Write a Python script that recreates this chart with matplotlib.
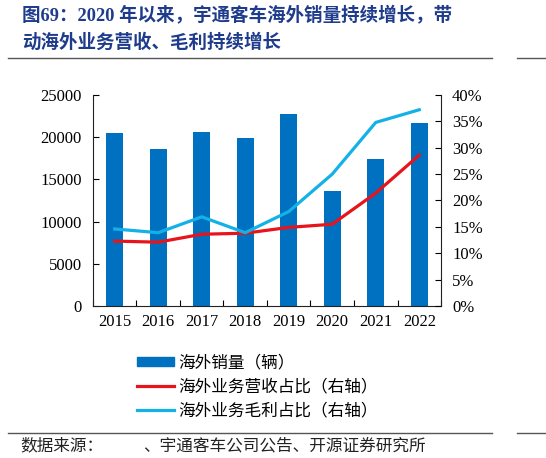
import matplotlib
matplotlib.use("Agg")
import matplotlib.pyplot as plt
from matplotlib.lines import Line2D
from matplotlib.patches import Patch
import numpy as np

# 宇通客车海外销量及海外业务占比
years = ['2015', '2016', '2017', '2018', '2019', '2020', '2021', '2022']
sales = [20550, 18550, 20650, 19850, 22750, 13630, 17450, 21680]        # 海外销量（辆）
rev_share = [12.3, 12.1, 13.6, 13.8, 14.9, 15.5, 21.4, 28.6]           # 海外业务营收占比 %
profit_share = [14.6, 13.9, 16.9, 13.9, 17.9, 25.0, 34.8, 37.2]        # 海外业务毛利占比 %

serif = ['Liberation Serif', 'Noto Sans CJK SC']
cjk = ['Noto Sans CJK SC', 'Liberation Serif']
plt.rcParams['font.family'] = serif

bar_c = '#0070C0'
red_c = '#E8141C'
blue_c = '#14B1E7'
title_c = '#1F3C8C'

fig = plt.figure(figsize=(5.46, 4.58), dpi=100)
ax = fig.add_axes([0.1703, 0.3319, 0.6374, 0.4607])
ax2 = ax.twinx()

x = np.arange(len(years))
ax.bar(x, sales, width=0.40, color=bar_c, zorder=2)
ax2.plot(x, rev_share, color=red_c, lw=2.3, zorder=3)
ax2.plot(x, profit_share, color=blue_c, lw=2.3, zorder=3)

ax.set_xlim(-0.5, len(years) - 0.5)
ax.set_ylim(0, 25000)
ax.set_yticks(range(0, 25001, 5000))
ax2.set_ylim(0, 40)
ax2.set_yticks(range(0, 41, 5))
ax2.set_yticklabels([f'{v}%' for v in range(0, 41, 5)])

ax.set_xticks(x)
ax.set_xticklabels(years)
ax.set_xticks(np.arange(-0.5, len(years) + 0.5, 1), minor=True)
ax.tick_params(axis='x', which='major', length=0, labelsize=12, pad=6)
ax.tick_params(axis='x', which='minor', direction='in', length=4, width=0.8)
ax.tick_params(axis='y', direction='in', length=4, width=0.8, labelsize=12, pad=8)
ax2.tick_params(axis='y', direction='in', length=4, width=0.8, labelsize=12, pad=8)

for a in (ax, ax2):
    a.spines['top'].set_visible(False)
    for s in ('left', 'right', 'bottom'):
        a.spines[s].set_linewidth(0.8)
        a.spines[s].set_color('#222222')
ax.spines['right'].set_visible(False)
ax2.spines['left'].set_visible(False)
ax2.spines['bottom'].set_visible(False)

# legend
handles = [Patch(color=bar_c),
           Line2D([], [], color=red_c, lw=2.3),
           Line2D([], [], color=blue_c, lw=2.3)]
labels = ['海外销量（辆）', '海外业务营收占比（右轴）', '海外业务毛利占比（右轴）']
fig.legend(handles, labels, loc='upper left', bbox_to_anchor=(129 / 546, 1 - 346 / 458),
           frameon=False, prop={'family': cjk, 'size': 12}, handlelength=2.2,
           handleheight=0.45, handletextpad=0.25, labelspacing=0.42, borderpad=0)

# title
fig.text(22 / 546, 1 - 15 / 458, '图69：2020 年以来，宇通客车海外销量持续增长，带',
         family=serif, fontsize=13.3, fontweight='bold', color=title_c, va='center')
fig.text(22 / 546, 1 - 43 / 458, '动海外业务营收、毛利持续增长',
         family=serif, fontsize=13.3, fontweight='bold', color=title_c, va='center')

# separator lines
for yy in (1 - 58 / 458, 1 - 433 / 458):
    fig.add_artist(Line2D([8 / 546, 492 / 546], [yy, yy], color='#555555', lw=1.0))
    fig.add_artist(Line2D([517 / 546, 1.0], [yy, yy], color='#555555', lw=1.0))

fig.text(20 / 546, 1 - 446 / 458, '数据来源：',
         family=cjk, fontsize=12, color='#222222', va='center')
fig.text(143 / 546, 1 - 446 / 458, '、宇通客车公司公告、开源证券研究所',
         family=cjk, fontsize=12, color='#222222', va='center')

fig.savefig('out.png', dpi=100)
